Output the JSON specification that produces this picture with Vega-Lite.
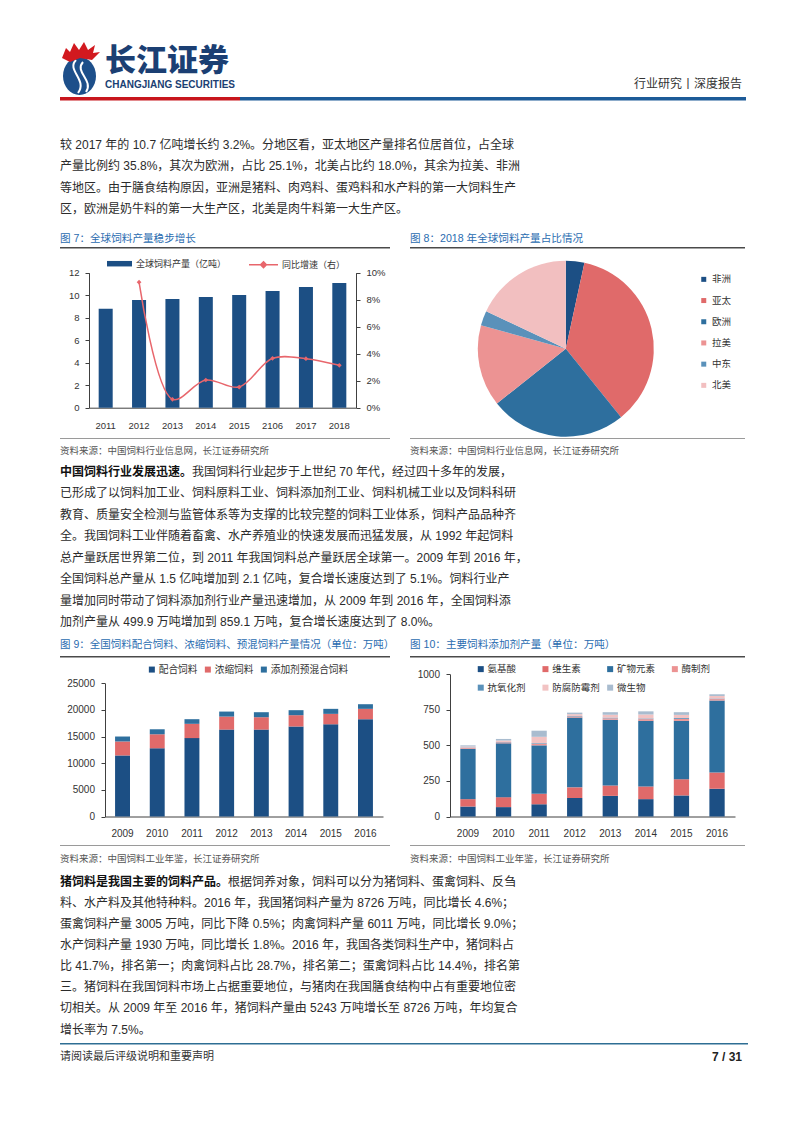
{
  "$schema": "https://vega.github.io/schema/vega-lite/v6.json",
  "background": "white",
  "padding": {"left": 60, "top": 0, "right": 0, "bottom": 0},
  "bounds": "full",
  "spacing": 0,
  "resolve": {"scale": {"color": "independent", "fill": "independent", "stroke": "independent"}, "legend": {"color": "independent", "fill": "independent", "stroke": "independent"}},
  "config": {
    "font": "Liberation Sans, Noto Sans CJK SC, sans-serif",
    "view": {"stroke": null},
    "axis": {"grid": false, "labelFont": "Liberation Sans, Noto Sans CJK SC, sans-serif", "labelColor": "#333333", "labelFontSize": 9.5, "domainColor": "#404040", "tickColor": "#404040", "domainWidth": 1, "tickWidth": 1},
    "legend": {"labelFont": "Liberation Sans, Noto Sans CJK SC, sans-serif", "labelColor": "#333333", "padding": 0, "labelLimit": 0, "titlePadding": 0},
    "text": {"font": "Liberation Sans, Noto Sans CJK SC, sans-serif"}
  },
  "datasets": {
    "para1": [
      {"line": 1, "col": 0, "weight": "normal", "text": "较 2017 年的 10.7 亿吨增长约 3.2%。分地区看，亚太地区产量排名位居首位，占全球"},
      {"line": 2, "col": 0, "weight": "normal", "text": "产量比例约 35.8%，其次为欧洲，占比 25.1%，北美占比约 18.0%，其余为拉美、非洲"},
      {"line": 3, "col": 0, "weight": "normal", "text": "等地区。由于膳食结构原因，亚洲是猪料、肉鸡料、蛋鸡料和水产料的第一大饲料生产"},
      {"line": 4, "col": 0, "weight": "normal", "text": "区，欧洲是奶牛料的第一大生产区，北美是肉牛料第一大生产区。"}
    ],
    "para2": [
      {"line": 1, "col": 0, "weight": "bold", "text": "中国饲料行业发展迅速。"},
      {"line": 1, "col": 11, "weight": "normal", "text": "我国饲料行业起步于上世纪 70 年代，经过四十多年的发展，"},
      {"line": 2, "col": 0, "weight": "normal", "text": "已形成了以饲料加工业、饲料原料工业、饲料添加剂工业、饲料机械工业以及饲料科研"},
      {"line": 3, "col": 0, "weight": "normal", "text": "教育、质量安全检测与监管体系等为支撑的比较完整的饲料工业体系，饲料产品品种齐"},
      {"line": 4, "col": 0, "weight": "normal", "text": "全。我国饲料工业伴随着畜禽、水产养殖业的快速发展而迅猛发展，从 1992 年起饲料"},
      {"line": 5, "col": 0, "weight": "normal", "text": "总产量跃居世界第二位，到 2011 年我国饲料总产量跃居全球第一。2009 年到 2016 年，"},
      {"line": 6, "col": 0, "weight": "normal", "text": "全国饲料总产量从 1.5 亿吨增加到 2.1 亿吨，复合增长速度达到了 5.1%。饲料行业产"},
      {"line": 7, "col": 0, "weight": "normal", "text": "量增加同时带动了饲料添加剂行业产量迅速增加，从 2009 年到 2016 年，全国饲料添"},
      {"line": 8, "col": 0, "weight": "normal", "text": "加剂产量从 499.9 万吨增加到 859.1 万吨，复合增长速度达到了 8.0%。"}
    ],
    "para3": [
      {"line": 1, "col": 0, "weight": "bold", "text": "猪饲料是我国主要的饲料产品。"},
      {"line": 1, "col": 14, "weight": "normal", "text": "根据饲养对象，饲料可以分为猪饲料、蛋禽饲料、反刍"},
      {"line": 2, "col": 0, "weight": "normal", "text": "料、水产料及其他特种料。2016 年，我国猪饲料产量为 8726 万吨，同比增长 4.6%；"},
      {"line": 3, "col": 0, "weight": "normal", "text": "蛋禽饲料产量 3005 万吨，同比下降 0.5%；肉禽饲料产量 6011 万吨，同比增长 9.0%；"},
      {"line": 4, "col": 0, "weight": "normal", "text": "水产饲料产量 1930 万吨，同比增长 1.8%。2016 年，我国各类饲料生产中，猪饲料占"},
      {"line": 5, "col": 0, "weight": "normal", "text": "比 41.7%，排名第一；肉禽饲料占比 28.7%，排名第二；蛋禽饲料占比 14.4%，排名第"},
      {"line": 6, "col": 0, "weight": "normal", "text": "三。猪饲料在我国饲料市场上占据重要地位，与猪肉在我国膳食结构中占有重要地位密"},
      {"line": 7, "col": 0, "weight": "normal", "text": "切相关。从 2009 年至 2016 年，猪饲料产量由 5243 万吨增长至 8726 万吨，年均复合"},
      {"line": 8, "col": 0, "weight": "normal", "text": "增长率为 7.5%。"}
    ],
    "global": [
      {"year": "2011", "output": 8.8, "growth": null},
      {"year": "2012", "output": 9.57, "growth": 0.093},
      {"year": "2013", "output": 9.66, "growth": 0.0062},
      {"year": "2014", "output": 9.84, "growth": 0.0205},
      {"year": "2015", "output": 10.02, "growth": 0.0153},
      {"year": "2106", "output": 10.37, "growth": 0.0366},
      {"year": "2017", "output": 10.73, "growth": 0.0363},
      {"year": "2018", "output": 11.08, "growth": 0.0314}
    ],
    "pie": [
      {"region": "非洲", "order": 1, "share": 3.4},
      {"region": "亚太", "order": 2, "share": 35.8},
      {"region": "欧洲", "order": 3, "share": 25.1},
      {"region": "拉美", "order": 4, "share": 15.0},
      {"region": "中东", "order": 5, "share": 2.7},
      {"region": "北美", "order": 6, "share": 18.0}
    ],
    "mix": [
      {"year": "2009", "type": "配合饲料", "k": 1, "value": 11450},
      {"year": "2009", "type": "浓缩饲料", "k": 2, "value": 2620},
      {"year": "2009", "type": "添加剂预混合饲料", "k": 3, "value": 930},
      {"year": "2010", "type": "配合饲料", "k": 1, "value": 12800},
      {"year": "2010", "type": "浓缩饲料", "k": 2, "value": 2620},
      {"year": "2010", "type": "添加剂预混合饲料", "k": 3, "value": 940},
      {"year": "2011", "type": "配合饲料", "k": 1, "value": 14700},
      {"year": "2011", "type": "浓缩饲料", "k": 2, "value": 2680},
      {"year": "2011", "type": "添加剂预混合饲料", "k": 3, "value": 870},
      {"year": "2012", "type": "配合饲料", "k": 1, "value": 16300},
      {"year": "2012", "type": "浓缩饲料", "k": 2, "value": 2440},
      {"year": "2012", "type": "添加剂预混合饲料", "k": 3, "value": 940},
      {"year": "2013", "type": "配合饲料", "k": 1, "value": 16300},
      {"year": "2013", "type": "浓缩饲料", "k": 2, "value": 2320},
      {"year": "2013", "type": "添加剂预混合饲料", "k": 3, "value": 940},
      {"year": "2014", "type": "配合饲料", "k": 1, "value": 16880},
      {"year": "2014", "type": "浓缩饲料", "k": 2, "value": 2120},
      {"year": "2014", "type": "添加剂预混合饲料", "k": 3, "value": 940},
      {"year": "2015", "type": "配合饲料", "k": 1, "value": 17300},
      {"year": "2015", "type": "浓缩饲料", "k": 2, "value": 1950},
      {"year": "2015", "type": "添加剂预混合饲料", "k": 3, "value": 940},
      {"year": "2016", "type": "配合饲料", "k": 1, "value": 18250},
      {"year": "2016", "type": "浓缩饲料", "k": 2, "value": 1940},
      {"year": "2016", "type": "添加剂预混合饲料", "k": 3, "value": 870}
    ],
    "additive": [
      {"year": "2009", "type": "氨基酸", "k": 1, "value": 70},
      {"year": "2009", "type": "维生素", "k": 2, "value": 52},
      {"year": "2009", "type": "矿物元素", "k": 3, "value": 354},
      {"year": "2009", "type": "酶制剂", "k": 4, "value": 6},
      {"year": "2009", "type": "抗氧化剂", "k": 5, "value": 3},
      {"year": "2009", "type": "防腐防霉剂", "k": 6, "value": 7},
      {"year": "2009", "type": "微生物", "k": 7, "value": 8},
      {"year": "2010", "type": "氨基酸", "k": 1, "value": 66},
      {"year": "2010", "type": "维生素", "k": 2, "value": 70},
      {"year": "2010", "type": "矿物元素", "k": 3, "value": 378},
      {"year": "2010", "type": "酶制剂", "k": 4, "value": 7},
      {"year": "2010", "type": "抗氧化剂", "k": 5, "value": 3},
      {"year": "2010", "type": "防腐防霉剂", "k": 6, "value": 10},
      {"year": "2010", "type": "微生物", "k": 7, "value": 11},
      {"year": "2011", "type": "氨基酸", "k": 1, "value": 86},
      {"year": "2011", "type": "维生素", "k": 2, "value": 74},
      {"year": "2011", "type": "矿物元素", "k": 3, "value": 340},
      {"year": "2011", "type": "酶制剂", "k": 4, "value": 10},
      {"year": "2011", "type": "抗氧化剂", "k": 5, "value": 5},
      {"year": "2011", "type": "防腐防霉剂", "k": 6, "value": 45},
      {"year": "2011", "type": "微生物", "k": 7, "value": 43},
      {"year": "2012", "type": "氨基酸", "k": 1, "value": 130},
      {"year": "2012", "type": "维生素", "k": 2, "value": 75},
      {"year": "2012", "type": "矿物元素", "k": 3, "value": 490},
      {"year": "2012", "type": "酶制剂", "k": 4, "value": 8},
      {"year": "2012", "type": "抗氧化剂", "k": 5, "value": 4},
      {"year": "2012", "type": "防腐防霉剂", "k": 6, "value": 12},
      {"year": "2012", "type": "微生物", "k": 7, "value": 11},
      {"year": "2013", "type": "氨基酸", "k": 1, "value": 145},
      {"year": "2013", "type": "维生素", "k": 2, "value": 73},
      {"year": "2013", "type": "矿物元素", "k": 3, "value": 462},
      {"year": "2013", "type": "酶制剂", "k": 4, "value": 10},
      {"year": "2013", "type": "抗氧化剂", "k": 5, "value": 5},
      {"year": "2013", "type": "防腐防霉剂", "k": 6, "value": 20},
      {"year": "2013", "type": "微生物", "k": 7, "value": 18},
      {"year": "2014", "type": "氨基酸", "k": 1, "value": 122},
      {"year": "2014", "type": "维生素", "k": 2, "value": 89},
      {"year": "2014", "type": "矿物元素", "k": 3, "value": 461},
      {"year": "2014", "type": "酶制剂", "k": 4, "value": 12},
      {"year": "2014", "type": "抗氧化剂", "k": 5, "value": 5},
      {"year": "2014", "type": "防腐防霉剂", "k": 6, "value": 28},
      {"year": "2014", "type": "微生物", "k": 7, "value": 22},
      {"year": "2015", "type": "氨基酸", "k": 1, "value": 148},
      {"year": "2015", "type": "维生素", "k": 2, "value": 114},
      {"year": "2015", "type": "矿物元素", "k": 3, "value": 410},
      {"year": "2015", "type": "酶制剂", "k": 4, "value": 14},
      {"year": "2015", "type": "抗氧化剂", "k": 5, "value": 6},
      {"year": "2015", "type": "防腐防霉剂", "k": 6, "value": 22},
      {"year": "2015", "type": "微生物", "k": 7, "value": 19},
      {"year": "2016", "type": "氨基酸", "k": 1, "value": 195},
      {"year": "2016", "type": "维生素", "k": 2, "value": 114},
      {"year": "2016", "type": "矿物元素", "k": 3, "value": 506},
      {"year": "2016", "type": "酶制剂", "k": 4, "value": 10},
      {"year": "2016", "type": "抗氧化剂", "k": 5, "value": 4},
      {"year": "2016", "type": "防腐防霉剂", "k": 6, "value": 18},
      {"year": "2016", "type": "微生物", "k": 7, "value": 12}
    ]
  },
  "vconcat": [
    {
      "hconcat": [
        {
          "width": 45, "height": 95.75,
          "data": {"values": [{"part": "emblem"}]},
          "layer": [
            {"mark": {"type": "point", "shape": "M-0.78,1.125A0.66,0.76,0,1,0,0.54,1.125A0.66,0.76,0,1,0,-0.78,1.125Z", "size": 2500, "filled": true, "fill": "#1d4f8a", "strokeWidth": 0, "opacity": 1}, "encoding": {}},
            {"mark": {"type": "point", "shape": "M-0.26,0.485C-0.66,0.885,0.22,1.285,-0.18,1.805M0.02,0.565C-0.34,0.965,0.46,1.285,0.14,1.765", "size": 2500, "filled": false, "stroke": "white", "strokeWidth": 2, "opacity": 1}, "encoding": {}},
            {"mark": {"type": "point", "shape": "M-0.82,0.405L-0.66,0.005L-0.5,0.165L-0.34,-0.195L-0.14,0.085L0.06,-0.235L0.22,0.085L0.5,-0.115L0.42,0.205L0.7,0.165L0.38,0.485L-0.1,0.405L-0.5,0.565Z", "size": 2500, "filled": true, "fill": "#d2191f", "strokeWidth": 0, "opacity": 1}, "encoding": {}}
          ]
        },
        {
          "width": 135, "height": 95.75,
          "data": {"values": [{"side": "left", "item": "cn", "text": "长江证券"}, {"side": "left", "item": "en", "text": "CHANGJIANG SECURITIES"}]},
          "encoding": {
            "x": {"field": "side", "type": "nominal", "scale": {"domain": ["left", "right"], "padding": 0}, "axis": null},
            "text": {"field": "text"}
          },
          "layer": [
            {"transform": [{"filter": "datum.item == 'cn'"}], "mark": {"type": "text", "align": "left", "fontSize": 31, "fontWeight": 900, "font": "Noto Sans CJK SC", "color": "#1b3f73", "dy": 14.3}},
            {"transform": [{"filter": "datum.item == 'en'"}], "mark": {"type": "text", "align": "left", "fontSize": 10, "fontWeight": "bold", "font": "Liberation Sans", "color": "#1b3f73", "dy": 36.8}}
          ]
        },
        {
          "width": 502, "height": 95.75,
          "data": {"values": [{"side": "right", "text": "行业研究丨深度报告"}]},
          "mark": {"type": "text", "align": "right", "fontSize": 12, "color": "#333333", "dy": 36.1},
          "encoding": {
            "x": {"field": "side", "type": "nominal", "scale": {"domain": ["left", "right"], "padding": 0}, "axis": null},
            "text": {"field": "text"}
          }
        }
      ],
      "spacing": 0, "bounds": "flush"
    },
    {
      "hconcat": [
        {"width": 180, "height": 3.5, "data": {"values": [{"band": "red"}]}, "mark": {"type": "rect", "color": "#c8161d"}, "encoding": {}},
        {"width": 506, "height": 3.5, "data": {"values": [{"band": "blue"}]}, "mark": {"type": "rect", "color": "#1d5b98"}, "encoding": {}}
      ],
      "spacing": 0, "bounds": "flush"
    },
    {
      "width": 456, "height": 127.25,
      "data": {"name": "para1"},
      "encoding": {
        "x": {"field": "col", "type": "quantitative", "scale": {"domain": [0, 38], "nice": false, "zero": false}, "axis": null},
        "y": {"field": "line", "type": "quantitative", "scale": {"domain": [-1.0444, 4.9019], "reverse": true, "nice": false, "zero": false}, "axis": null},
        "text": {"field": "text"}
      },
      "layer": [
        {"transform": [{"filter": "datum.weight == 'normal'"}], "mark": {"type": "text", "align": "left", "baseline": "middle", "fontSize": 12, "color": "#2b2b2b"}},
        {"transform": [{"filter": "datum.weight == 'bold'"}], "mark": {"type": "text", "align": "left", "baseline": "middle", "fontSize": 12, "fontWeight": "bold", "color": "#111111"}}
      ]
    },
    {
      "hconcat": [
        {"width": 330, "height": 17.5, "data": {"values": [{"side": "left", "text": "图 7：全球饲料产量稳步增长"}]}, "mark": {"type": "text", "align": "left", "fontSize": 10.6, "color": "#2a6cb0", "dy": 1.25}, "encoding": {"x": {"field": "side", "type": "nominal", "scale": {"domain": ["left", "right"], "padding": 0}, "axis": null}, "text": {"field": "text"}}},
        {"width": 335, "height": 17.5, "data": {"values": [{"side": "left", "text": "图 8：2018 年全球饲料产量占比情况"}]}, "mark": {"type": "text", "align": "left", "fontSize": 10.6, "color": "#2a6cb0", "dy": 1.25}, "encoding": {"x": {"field": "side", "type": "nominal", "scale": {"domain": ["left", "right"], "padding": 0}, "axis": null}, "text": {"field": "text"}}}
      ],
      "spacing": 20, "bounds": "flush"
    },
    {
      "hconcat": [
        {"width": 330, "height": 1.5, "data": {"values": [{"rule": "title"}]}, "mark": {"type": "rect", "color": "#4a4a4a"}, "encoding": {}},
        {"width": 335, "height": 1.5, "data": {"values": [{"rule": "title"}]}, "mark": {"type": "rect", "color": "#4a4a4a"}, "encoding": {}}
      ],
      "spacing": 20, "bounds": "flush"
    },
    {
      "hconcat": [
        {
          "width": 330, "height": 188,
          "data": {"name": "global"},
          "layer": [
            {
              "mark": {"type": "bar"},
              "encoding": {
                "x": {"field": "year", "type": "nominal", "sort": null, "title": null, "scale": {"range": [29, 296], "paddingInner": 0.58, "paddingOuter": 0.29}, "axis": {"orient": "bottom", "offset": -29.3, "labelAngle": 0, "ticks": false, "labelPadding": 12.5, "labelFontSize": 9.5}},
                "y": {"field": "output", "type": "quantitative", "title": null, "scale": {"domain": [0, 12], "range": [158.7, 23.7], "nice": false}, "axis": {"orient": "left", "offset": -29, "values": [0, 2, 4, 6, 8, 10, 12], "tickSize": 4, "labelPadding": 6, "labelFlush": false}},
                "fill": {"datum": "全球饲料产量（亿吨）", "type": "nominal", "scale": {"range": ["#1c4f84"]}, "legend": {"orient": "none", "legendX": 54.5, "legendY": 9.7, "title": null, "symbolType": "M-2.5,-0.55H2.5V0.55H-2.5Z", "symbolSize": 100, "symbolStrokeWidth": 0, "labelFontSize": 9, "labelOffset": 11.5}}
              }
            },
            {
              "encoding": {
                "x": {"field": "year", "type": "nominal", "sort": null, "title": null, "scale": {"range": [29, 296], "paddingInner": 0.58, "paddingOuter": 0.29}, "axis": {"orient": "bottom", "offset": -29.3, "labelAngle": 0, "ticks": false, "labelPadding": 12.5, "labelFontSize": 9.5}},
                "y": {"field": "growth", "type": "quantitative", "title": null, "scale": {"domain": [0, 0.1], "range": [158.7, 23.7], "nice": false}, "axis": {"orient": "right", "offset": -34, "values": [0, 0.02, 0.04, 0.06, 0.08, 0.1], "format": ".0%", "tickSize": 4, "labelPadding": 6, "labelFlush": false}}
              },
              "layer": [
                {"mark": {"type": "line", "interpolate": "catmull-rom", "strokeWidth": 1.5}, "encoding": {"stroke": {"datum": "同比增速（右）", "type": "nominal", "scale": {"range": ["#e8666c"]}, "legend": {"orient": "none", "legendX": 197.5, "legendY": 9.7, "title": null, "symbolType": "M-2.9,0H2.9M0,-0.58L0.58,0L0,0.58L-0.58,0Z", "symbolSize": 100, "symbolStrokeWidth": 1.5, "symbolFillColor": "#e8666c", "labelFontSize": 9, "labelOffset": 12.5}}}},
                {"mark": {"type": "point", "shape": "diamond", "filled": true, "size": 22, "color": "#e8666c", "opacity": 1}}
              ]
            }
          ],
          "resolve": {"scale": {"y": "independent"}}
        },
        {
          "vconcat": [
            {"width": 311.6, "height": 10.6, "data": {"values": []}, "mark": "rect", "encoding": {}},
            {
              "width": 311.6, "height": 177.4,
              "data": {"name": "pie"},
              "mark": {"type": "arc", "outerRadius": 88},
              "encoding": {
                "theta": {"field": "share", "type": "quantitative", "stack": true},
                "order": {"field": "order", "type": "quantitative"},
                "color": {"field": "region", "type": "nominal", "scale": {"domain": ["非洲", "亚太", "欧洲", "拉美", "中东", "北美"], "range": ["#1c4f84", "#e06a6a", "#2e6f9e", "#ec9393", "#5a91ba", "#f2bfc0"]}, "legend": {"orient": "none", "legendX": 289, "legendY": 14.6, "title": null, "symbolType": "square", "symbolSize": 25, "symbolStrokeWidth": 0, "labelFontSize": 9.5, "labelOffset": 3.5, "rowPadding": 10.2}}
              }
            }
          ],
          "spacing": 0, "bounds": "flush",
          "resolve": {"scale": {"color": "independent"}, "legend": {"color": "independent"}}
        }
      ],
      "spacing": 20, "bounds": "flush",
      "resolve": {"scale": {"color": "independent", "fill": "independent", "stroke": "independent"}, "legend": {"color": "independent", "fill": "independent", "stroke": "independent"}}
    },
    {
      "hconcat": [
        {"width": 330, "height": 1, "data": {"values": [{"rule": "bottom"}]}, "mark": {"type": "rect", "color": "#9a9a9a"}, "encoding": {}},
        {"width": 335, "height": 1, "data": {"values": [{"rule": "bottom"}]}, "mark": {"type": "rect", "color": "#9a9a9a"}, "encoding": {}}
      ],
      "spacing": 20, "bounds": "flush"
    },
    {
      "hconcat": [
        {"width": 330, "height": 23, "data": {"values": [{"side": "left", "text": "资料来源：中国饲料行业信息网，长江证券研究所"}]}, "mark": {"type": "text", "align": "left", "fontSize": 9.5, "color": "#555555", "dy": 0.5}, "encoding": {"x": {"field": "side", "type": "nominal", "scale": {"domain": ["left", "right"], "padding": 0}, "axis": null}, "text": {"field": "text"}}},
        {"width": 335, "height": 23, "data": {"values": [{"side": "left", "text": "资料来源：中国饲料行业信息网，长江证券研究所"}]}, "mark": {"type": "text", "align": "left", "fontSize": 9.5, "color": "#555555", "dy": 0.5}, "encoding": {"x": {"field": "side", "type": "nominal", "scale": {"domain": ["left", "right"], "padding": 0}, "axis": null}, "text": {"field": "text"}}}
      ],
      "spacing": 20, "bounds": "flush"
    },
    {
      "width": 456, "height": 172,
      "data": {"name": "para2"},
      "encoding": {
        "x": {"field": "col", "type": "quantitative", "scale": {"domain": [0, 38], "nice": false, "zero": false}, "axis": null},
        "y": {"field": "line", "type": "quantitative", "scale": {"domain": [0.5581, 8.5581], "reverse": true, "nice": false, "zero": false}, "axis": null},
        "text": {"field": "text"}
      },
      "layer": [
        {"transform": [{"filter": "datum.weight == 'normal'"}], "mark": {"type": "text", "align": "left", "baseline": "middle", "fontSize": 12, "color": "#2b2b2b"}},
        {"transform": [{"filter": "datum.weight == 'bold'"}], "mark": {"type": "text", "align": "left", "baseline": "middle", "fontSize": 12, "fontWeight": "bold", "color": "#111111"}}
      ]
    },
    {
      "hconcat": [
        {"width": 350, "height": 22, "data": {"values": [{"side": "left", "text": "图 9：全国饲料配合饲料、浓缩饲料、预混饲料产量情况（单位：万吨）"}]}, "mark": {"type": "text", "align": "left", "fontSize": 10.5, "color": "#2a6cb0"}, "encoding": {"x": {"field": "side", "type": "nominal", "scale": {"domain": ["left", "right"], "padding": 0}, "axis": null}, "text": {"field": "text"}}},
        {"width": 335, "height": 22, "data": {"values": [{"side": "left", "text": "图 10：主要饲料添加剂产量（单位：万吨）"}]}, "mark": {"type": "text", "align": "left", "fontSize": 10.6, "color": "#2a6cb0"}, "encoding": {"x": {"field": "side", "type": "nominal", "scale": {"domain": ["left", "right"], "padding": 0}, "axis": null}, "text": {"field": "text"}}}
      ],
      "spacing": 0, "bounds": "flush"
    },
    {
      "hconcat": [
        {"width": 330, "height": 1.5, "data": {"values": [{"rule": "title"}]}, "mark": {"type": "rect", "color": "#4a4a4a"}, "encoding": {}},
        {"width": 335, "height": 1.5, "data": {"values": [{"rule": "title"}]}, "mark": {"type": "rect", "color": "#4a4a4a"}, "encoding": {}}
      ],
      "spacing": 20, "bounds": "flush"
    },
    {
      "hconcat": [
        {
          "width": 330, "height": 187,
          "data": {"name": "mix"},
          "mark": {"type": "bar"},
          "encoding": {
            "x": {"field": "year", "type": "nominal", "sort": null, "title": null, "scale": {"range": [45, 323], "paddingInner": 0.57, "paddingOuter": 0.29}, "axis": {"orient": "bottom", "offset": -28.5, "labelAngle": 0, "ticks": false, "labelPadding": 11.5, "labelFontSize": 10}},
            "y": {"field": "value", "type": "quantitative", "stack": "zero", "title": null, "scale": {"domain": [0, 25000], "range": [158.5, 25.2], "nice": false}, "axis": {"orient": "left", "offset": -45, "values": [0, 5000, 10000, 15000, 20000, 25000], "format": "d", "tickSize": 4, "labelPadding": 6.5, "labelFontSize": 10, "labelFlush": false}},
            "color": {"field": "type", "type": "nominal", "scale": {"domain": ["配合饲料", "浓缩饲料", "添加剂预混合饲料"], "range": ["#1c4f84", "#e06a6a", "#2e6f9e"]}, "legend": {"orient": "none", "direction": "horizontal", "legendX": 87, "legendY": 6.5, "title": null, "symbolType": "square", "symbolSize": 36, "symbolStrokeWidth": 0, "labelFontSize": 9.7, "labelOffset": 2, "columnPadding": 5}},
            "order": {"field": "k", "type": "quantitative"}
          }
        },
        {
          "width": 335, "height": 187,
          "data": {"name": "additive"},
          "mark": {"type": "bar"},
          "encoding": {
            "x": {"field": "year", "type": "nominal", "sort": null, "title": null, "scale": {"range": [40, 325], "paddingInner": 0.57, "paddingOuter": 0.29}, "axis": {"orient": "bottom", "offset": -28.5, "labelAngle": 0, "ticks": false, "labelPadding": 11.5, "labelFontSize": 10}},
            "y": {"field": "value", "type": "quantitative", "stack": "zero", "title": null, "scale": {"domain": [0, 1000], "range": [158.5, 16.2], "nice": false}, "axis": {"orient": "left", "offset": -40, "values": [0, 250, 500, 750, 1000], "format": "d", "tickSize": 4, "labelPadding": 6.5, "labelFontSize": 10, "labelFlush": false}},
            "color": {"field": "type", "type": "nominal", "scale": {"domain": ["氨基酸", "维生素", "矿物元素", "酶制剂", "抗氧化剂", "防腐防霉剂", "微生物"], "range": ["#1c4f84", "#e06a6a", "#2e6f9e", "#ec9393", "#5a91ba", "#f2c3c3", "#a9bccf"]}, "legend": {"orient": "none", "direction": "horizontal", "columns": 4, "gridAlign": "all", "legendX": 66, "legendY": 6, "title": null, "symbolType": "square", "symbolSize": 36, "symbolStrokeWidth": 0, "labelFontSize": 9.5, "labelOffset": 2, "columnPadding": 4.7, "rowPadding": 7.9}},
            "order": {"field": "k", "type": "quantitative"}
          }
        }
      ],
      "spacing": 20, "bounds": "flush",
      "resolve": {"scale": {"color": "independent"}, "legend": {"color": "independent"}}
    },
    {
      "hconcat": [
        {"width": 330, "height": 1, "data": {"values": [{"rule": "bottom"}]}, "mark": {"type": "rect", "color": "#9a9a9a"}, "encoding": {}},
        {"width": 335, "height": 1, "data": {"values": [{"rule": "bottom"}]}, "mark": {"type": "rect", "color": "#9a9a9a"}, "encoding": {}}
      ],
      "spacing": 20, "bounds": "flush"
    },
    {
      "hconcat": [
        {"width": 330, "height": 26, "data": {"values": [{"side": "left", "text": "资料来源：中国饲料工业年鉴，长江证券研究所"}]}, "mark": {"type": "text", "align": "left", "fontSize": 9.5, "color": "#555555"}, "encoding": {"x": {"field": "side", "type": "nominal", "scale": {"domain": ["left", "right"], "padding": 0}, "axis": null}, "text": {"field": "text"}}},
        {"width": 335, "height": 26, "data": {"values": [{"side": "left", "text": "资料来源：中国饲料工业年鉴，长江证券研究所"}]}, "mark": {"type": "text", "align": "left", "fontSize": 9.5, "color": "#555555"}, "encoding": {"x": {"field": "side", "type": "nominal", "scale": {"domain": ["left", "right"], "padding": 0}, "axis": null}, "text": {"field": "text"}}}
      ],
      "spacing": 20, "bounds": "flush"
    },
    {
      "width": 456, "height": 171,
      "data": {"name": "para3"},
      "encoding": {
        "x": {"field": "col", "type": "quantitative", "scale": {"domain": [0, 38], "nice": false, "zero": false}, "axis": null},
        "y": {"field": "line", "type": "quantitative", "scale": {"domain": [0.5508, 8.6359], "reverse": true, "nice": false, "zero": false}, "axis": null},
        "text": {"field": "text"}
      },
      "layer": [
        {"transform": [{"filter": "datum.weight == 'normal'"}], "mark": {"type": "text", "align": "left", "baseline": "middle", "fontSize": 12, "color": "#2b2b2b"}},
        {"transform": [{"filter": "datum.weight == 'bold'"}], "mark": {"type": "text", "align": "left", "baseline": "middle", "fontSize": 12, "fontWeight": "bold", "color": "#111111"}}
      ]
    },
    {"width": 688, "height": 1.5, "data": {"values": [{"rule": "footer"}]}, "mark": {"type": "rect", "color": "#2e6e94"}, "encoding": {}},
    {
      "width": 682, "height": 23,
      "data": {"values": [{"side": "left", "text": "请阅读最后评级说明和重要声明"}, {"side": "right", "text": "7 / 31"}]},
      "encoding": {
        "x": {"field": "side", "type": "nominal", "scale": {"domain": ["left", "right"], "padding": 0}, "axis": null},
        "text": {"field": "text"}
      },
      "layer": [
        {"transform": [{"filter": "datum.side == 'left'"}], "mark": {"type": "text", "align": "left", "fontSize": 11, "color": "#333333"}},
        {"transform": [{"filter": "datum.side == 'right'"}], "mark": {"type": "text", "align": "right", "fontSize": 12, "fontWeight": "bold", "color": "#222222"}}
      ]
    }
  ]
}
